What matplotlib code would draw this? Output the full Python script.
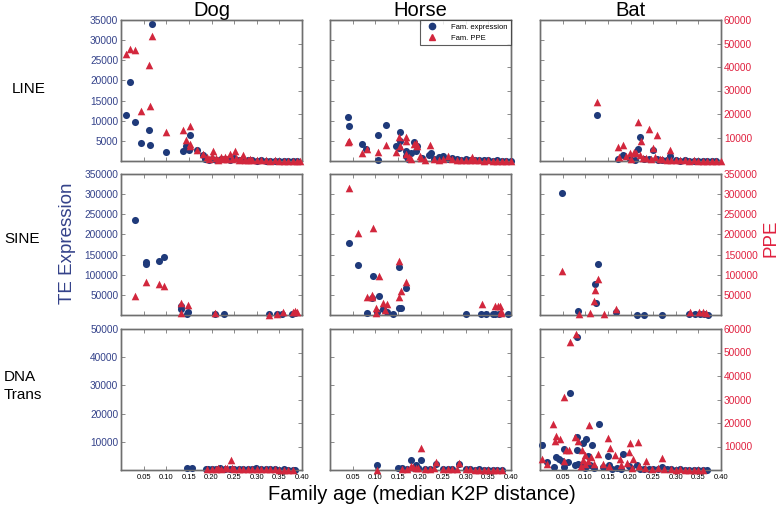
import matplotlib
matplotlib.use("Agg")
import matplotlib.pyplot as plt
from matplotlib.lines import Line2D

plt.rcParams["font.family"] = ["Liberation Sans", "DejaVu Sans"]

NAVY = "#1f3a7a"
RED = "#d2273d"
NAVY_TXT = "#34428a"
RED_TXT = "#e0213f"

SPECIES = ["Dog", "Horse", "Bat"]
FAMILIES = ["LINE", "SINE", "DNA\nTrans"]
XTICKS = [0.05, 0.10, 0.15, 0.20, 0.25, 0.30, 0.35, 0.40]
XTICKLABELS = ["0.05", "0.10", "0.15", "0.20", "0.25", "0.30", "0.35", "0.40"]
EXPR_MAX = [35000, 350000, 50000]
EXPR_STEP = [5000, 50000, 10000]
PPE_MAX = [60000, 350000, 60000]
PPE_STEP = [10000, 50000, 10000]

# ---- LINE ----
DOG_LINE_EXPR_X = [0.069, 0.019, 0.010, 0.032, 0.061, 0.044, 0.065, 0.100, 0.137, 0.143, 0.151, 0.152,
                   0.169, 0.182, 0.186, 0.195, 0.20, 0.21, 0.22, 0.23, 0.24, 0.25, 0.26, 0.27, 0.28,
                   0.29, 0.30, 0.31, 0.32, 0.33, 0.34, 0.35, 0.36, 0.37, 0.38, 0.39]
DOG_LINE_EXPR = [34000, 19600, 11400, 9600, 7800, 4400, 3900, 2250, 2400, 3600, 2700, 6400,
                 2750, 1400, 400, 300, 600, 200, 400, 500, 300, 800, 200, 300, 150,
                 200, 100, 150, 100, 80, 100, 60, 80, 50, 60, 40]
DOG_LINE_PPE_X = [0.069, 0.011, 0.020, 0.032, 0.061, 0.065, 0.044, 0.100, 0.137, 0.143, 0.152, 0.152,
                  0.153, 0.169, 0.182, 0.204, 0.251, 0.269, 0.241, 0.19, 0.195, 0.20, 0.21, 0.215,
                  0.22, 0.225, 0.23, 0.235, 0.245, 0.255, 0.26, 0.265, 0.275, 0.28, 0.285, 0.29,
                  0.30, 0.31, 0.32, 0.33, 0.34, 0.35, 0.36, 0.37, 0.38, 0.39, 0.395]
DOG_LINE_PPE = [53100, 45400, 47700, 47300, 40700, 23600, 21300, 12400, 13000, 9000, 15000, 7200,
                6200, 4700, 3100, 4300, 4300, 2400, 2900, 1500, 800, 2000, 1200, 600,
                1800, 900, 1500, 700, 1000, 1400, 500, 900, 600, 400, 700, 300,
                500, 300, 400, 200, 300, 200, 150, 200, 100, 100, 80]

HORSE_LINE_EXPR_X = [0.040, 0.043, 0.070, 0.080, 0.106, 0.106, 0.123, 0.145, 0.155, 0.155, 0.152, 0.167,
                     0.169, 0.173, 0.186, 0.189, 0.179, 0.192, 0.218, 0.224, 0.204, 0.250, 0.23, 0.24,
                     0.26, 0.27, 0.28, 0.29, 0.30, 0.31, 0.32, 0.33, 0.34, 0.35, 0.36, 0.37, 0.38,
                     0.39, 0.40]
HORSE_LINE_EXPR = [10900, 8800, 4100, 3100, 6400, 200, 9000, 3600, 7200, 5000, 3300, 2500,
                   1200, 600, 4800, 2600, 2100, 3750, 1500, 1900, 800, 1250, 600, 900,
                   500, 700, 400, 300, 500, 200, 300, 200, 150, 200, 100, 150, 80,
                   100, 60]
HORSE_LINE_PPE_X = [0.040, 0.043, 0.070, 0.081, 0.106, 0.123, 0.145, 0.153, 0.167, 0.167, 0.186, 0.190,
                    0.192, 0.155, 0.220, 0.169, 0.198, 0.260, 0.314, 0.175, 0.18, 0.20, 0.21, 0.23,
                    0.24, 0.25, 0.27, 0.28, 0.29, 0.30, 0.31, 0.32, 0.33, 0.34, 0.35, 0.36, 0.37,
                    0.38, 0.39, 0.40]
HORSE_LINE_PPE = [8000, 8400, 3600, 5300, 3900, 6600, 4000, 10300, 10100, 8300, 7100, 7600,
                  6300, 6400, 6700, 2900, 2100, 2100, 1900, 1500, 800, 1200, 600, 1000,
                  500, 900, 700, 400, 600, 300, 500, 300, 400, 200, 300, 200, 150,
                  100, 150, 80]

BAT_LINE_EXPR_X = [0.125, 0.222, 0.216, 0.249, 0.287, 0.183, 0.172, 0.198, 0.240, 0.259, 0.21, 0.23,
                   0.26, 0.27, 0.28, 0.30, 0.31, 0.32, 0.33, 0.34, 0.35, 0.36, 0.37, 0.38, 0.39]
BAT_LINE_EXPR = [11400, 6000, 2900, 2700, 1250, 1600, 400, 400, 600, 400, 300, 400,
                 200, 300, 150, 200, 100, 150, 80, 100, 60, 50, 80, 40, 50]
BAT_LINE_PPE_X = [0.125, 0.172, 0.183, 0.198, 0.207, 0.216, 0.223, 0.240, 0.259, 0.249, 0.288, 0.213,
                  0.228, 0.175, 0.19, 0.20, 0.22, 0.235, 0.245, 0.255, 0.265, 0.27, 0.28, 0.29,
                  0.30, 0.31, 0.32, 0.33, 0.34, 0.35, 0.36, 0.37, 0.38, 0.39, 0.40]
BAT_LINE_PPE = [25300, 6000, 6800, 3200, 3900, 16800, 8300, 13500, 11200, 5500, 4500, 3600,
                1400, 1500, 2000, 1000, 2500, 1200, 800, 1500, 700, 900, 500, 600,
                300, 400, 300, 200, 250, 150, 200, 100, 150, 80, 60]

# ---- SINE ----
DOG_SINE_EXPR_X = [0.030, 0.055, 0.055, 0.084, 0.094, 0.132, 0.132, 0.148, 0.145, 0.207, 0.227, 0.328,
                   0.345, 0.356, 0.378, 0.385]
DOG_SINE_EXPR = [236700, 131700, 126700, 135000, 145000, 23300, 15000, 8300, 2500, 1700, 1700, 1700,
                 1700, 2500, 2500, 4000]
DOG_SINE_PPE_X = [0.030, 0.056, 0.084, 0.094, 0.132, 0.132, 0.148, 0.207, 0.358, 0.380, 0.385, 0.389,
                  0.345, 0.328]
DOG_SINE_PPE = [46700, 82500, 76700, 72500, 30000, 4000, 24000, 4000, 6700, 8300, 10000, 6700,
                1500, 1000]

HORSE_SINE_EXPR_X = [0.0426, 0.0617, 0.094, 0.092, 0.109, 0.082, 0.117, 0.126, 0.139, 0.152, 0.152,
                     0.157, 0.168, 0.103, 0.300, 0.334, 0.345, 0.360, 0.365, 0.374, 0.394]
HORSE_SINE_EXPR = [178300, 125000, 97500, 41700, 46700, 5000, 15000, 6700, 1700, 120000, 18300,
                   18300, 65800, 6700, 1700, 3300, 1700, 2500, 3300, 2500, 1700]
HORSE_SINE_PPE_X = [0.0426, 0.0617, 0.094, 0.109, 0.082, 0.092, 0.092, 0.117, 0.127, 0.102, 0.122,
                    0.152, 0.156, 0.152, 0.168, 0.101, 0.335, 0.364, 0.371, 0.376, 0.377, 0.379]
HORSE_SINE_PPE = [315000, 204000, 215000, 97500, 45000, 50800, 45800, 30800, 27500, 17500, 12500,
                  133000, 60000, 45000, 80800, 5800, 27500, 23300, 21700, 22500, 10800, 4000]

BAT_SINE_EXPR_X = [0.048, 0.128, 0.121, 0.123, 0.084, 0.167, 0.214, 0.230, 0.269, 0.329, 0.342,
                   0.354, 0.363, 0.372]
BAT_SINE_EXPR = [302500, 125800, 75800, 29200, 10000, 7500, 1000, 1000, 1000, 1700, 1700,
                 1700, 1700, 1000]
BAT_SINE_PPE_X = [0.048, 0.128, 0.122, 0.120, 0.110, 0.141, 0.167, 0.331, 0.352, 0.360, 0.366, 0.086]
BAT_SINE_PPE = [109000, 88300, 61700, 34200, 5000, 2500, 15000, 8300, 6700, 6700, 5000, 2500]

# ---- DNA transposons ----
DOG_DNA_EXPR_X = [0.145, 0.157, 0.187, 0.192, 0.219, 0.241, 0.298, 0.20, 0.21, 0.23, 0.25, 0.26,
                  0.27, 0.28, 0.29, 0.31, 0.32, 0.33, 0.34, 0.35, 0.36, 0.37, 0.38, 0.385]
DOG_DNA_EXPR = [800, 800, 350, 350, 600, 400, 600, 300, 200, 400, 300, 250,
                300, 200, 350, 250, 200, 300, 200, 150, 200, 100, 150, 100]
DOG_DNA_PPE_X = [0.242, 0.19, 0.20, 0.21, 0.215, 0.22, 0.23, 0.235, 0.245, 0.25, 0.26, 0.27,
                 0.28, 0.29, 0.30, 0.31, 0.32, 0.33, 0.34, 0.35, 0.36, 0.37, 0.38]
DOG_DNA_PPE = [4100, 300, 500, 400, 800, 600, 1000, 700, 900, 600, 500, 400,
               600, 300, 500, 400, 300, 250, 300, 200, 150, 150, 100]

HORSE_DNA_EXPR_X = [0.103, 0.150, 0.160, 0.178, 0.189, 0.200, 0.235, 0.286, 0.17, 0.185, 0.195, 0.21,
                    0.22, 0.25, 0.26, 0.27, 0.30, 0.31, 0.32, 0.33, 0.34, 0.35, 0.36, 0.37, 0.38]
HORSE_DNA_EXPR = [1660, 600, 600, 3400, 1900, 3400, 2000, 2000, 400, 800, 600, 300,
                  400, 300, 200, 250, 300, 200, 150, 200, 100, 150, 100, 80, 100]
HORSE_DNA_PPE_X = [0.200, 0.235, 0.286, 0.178, 0.183, 0.103, 0.16, 0.17, 0.19, 0.195, 0.21, 0.22,
                   0.23, 0.25, 0.26, 0.27, 0.28, 0.30, 0.31, 0.32, 0.33, 0.34, 0.35, 0.36, 0.37, 0.38]
HORSE_DNA_PPE = [9200, 3300, 2800, 1850, 1400, 0, 300, 600, 1000, 800, 600, 500,
                 700, 400, 500, 300, 400, 300, 250, 200, 200, 150, 150, 100, 100, 80]

BAT_DNA_EXPR_X = [0.081, 0.067, 0.130, 0.081, 0.005, 0.101, 0.095, 0.115, 0.053, 0.184, 0.150, 0.081,
                  0.036, 0.042, 0.048, 0.016, 0.061, 0.030, 0.054, 0.078, 0.085, 0.093, 0.107, 0.111,
                  0.152, 0.196, 0.215, 0.270, 0.10, 0.12, 0.14, 0.16, 0.17, 0.18, 0.20, 0.22,
                  0.23, 0.24, 0.25, 0.26, 0.28, 0.29, 0.30, 0.31, 0.32, 0.33, 0.34, 0.35, 0.36, 0.37]
BAT_DNA_EXPR = [47000, 27400, 16200, 11800, 8900, 11000, 9600, 9000, 7600, 5700, 4800, 7100,
                4500, 4000, 3100, 3000, 2700, 1000, 1000, 1900, 2100, 1500, 5100, 1900,
                1900, 1400, 1900, 1000, 800, 600, 1000, 500, 700, 400, 600, 500,
                300, 400, 300, 200, 300, 200, 150, 200, 100, 150, 100, 80, 100, 60]
BAT_DNA_PPE_X = [0.080, 0.067, 0.053, 0.029, 0.035, 0.034, 0.044, 0.063, 0.078, 0.085, 0.108, 0.150,
                 0.154, 0.128, 0.165, 0.198, 0.216, 0.196, 0.205, 0.235, 0.270, 0.005, 0.016, 0.054,
                 0.057, 0.093, 0.100, 0.096, 0.105, 0.113, 0.119, 0.100, 0.091, 0.140, 0.152, 0.176,
                 0.180, 0.193, 0.204, 0.219, 0.233, 0.248, 0.26, 0.275, 0.29, 0.30, 0.31, 0.32,
                 0.33, 0.34, 0.35, 0.36]
BAT_DNA_PPE = [57700, 54600, 31100, 19400, 14300, 12300, 13300, 8600, 13900, 12300, 19100, 13700,
               9300, 6700, 6400, 11700, 12100, 7600, 4600, 3900, 5300, 4600, 2600, 3900,
               8300, 8300, 6300, 4400, 4000, 5400, 2600, 2600, 1900, 2500, 1800, 4500,
               2000, 3000, 800, 1500, 1000, 600, 800, 400, 300, 200, 300, 150,
               200, 100, 150, 100]

EXPR = [[(DOG_LINE_EXPR_X, DOG_LINE_EXPR), (HORSE_LINE_EXPR_X, HORSE_LINE_EXPR), (BAT_LINE_EXPR_X, BAT_LINE_EXPR)],
        [(DOG_SINE_EXPR_X, DOG_SINE_EXPR), (HORSE_SINE_EXPR_X, HORSE_SINE_EXPR), (BAT_SINE_EXPR_X, BAT_SINE_EXPR)],
        [(DOG_DNA_EXPR_X, DOG_DNA_EXPR), (HORSE_DNA_EXPR_X, HORSE_DNA_EXPR), (BAT_DNA_EXPR_X, BAT_DNA_EXPR)]]
PPE = [[(DOG_LINE_PPE_X, DOG_LINE_PPE), (HORSE_LINE_PPE_X, HORSE_LINE_PPE), (BAT_LINE_PPE_X, BAT_LINE_PPE)],
       [(DOG_SINE_PPE_X, DOG_SINE_PPE), (HORSE_SINE_PPE_X, HORSE_SINE_PPE), (BAT_SINE_PPE_X, BAT_SINE_PPE)],
       [(DOG_DNA_PPE_X, DOG_DNA_PPE), (HORSE_DNA_PPE_X, HORSE_DNA_PPE), (BAT_DNA_PPE_X, BAT_DNA_PPE)]]

W, H = 780, 507
fig = plt.figure(figsize=(W / 100, H / 100), dpi=100)
fig.patch.set_facecolor("white")

COL_LEFT = [121, 330, 540]
ROW_TOP = [20, 174, 329]
PW, PH = 181, 141

for r in range(3):
    for c in range(3):
        rect = [COL_LEFT[c] / W, 1 - (ROW_TOP[r] + PH) / H, PW / W, PH / H]
        ax = fig.add_axes(rect)
        ax2 = ax.twinx()
        ex, ey = EXPR[r][c]
        px, py = PPE[r][c]
        ax.scatter(ex, ey, s=26, marker="o", color=NAVY, linewidths=0, clip_on=False, zorder=3)
        ax2.scatter(px, py, s=30, marker="^", color=RED, linewidths=0, clip_on=False, zorder=3)

        ax.set_xlim(0, 0.40)
        ax.set_ylim(0, EXPR_MAX[r])
        ax2.set_ylim(0, PPE_MAX[r])
        ax.set_xticks(XTICKS)
        ax.set_yticks(range(EXPR_STEP[r], EXPR_MAX[r] + 1, EXPR_STEP[r]))
        ax2.set_yticks(range(PPE_STEP[r], PPE_MAX[r] + 1, PPE_STEP[r]))

        ax.tick_params(axis="x", direction="in", top=True, length=3, width=0.6,
                       color="#777777", labelsize=5.5, pad=3)
        ax.tick_params(axis="y", direction="in", length=3, width=0.6,
                       color="#777777", labelsize=7.3, labelcolor=NAVY_TXT, pad=2)
        ax2.tick_params(axis="y", direction="in", length=3, width=0.6,
                        color="#777777", labelsize=7.3, labelcolor=RED_TXT, pad=2)

        if r == 2:
            ax.set_xticklabels(XTICKLABELS)
        else:
            ax.set_xticklabels([])
        if c != 0:
            ax.set_yticklabels([])
        if c != 2:
            ax2.set_yticklabels([])

        for a in (ax, ax2):
            for sp in a.spines.values():
                sp.set_color("#6f6f6f")
                sp.set_linewidth(1.0)

        if r == 0:
            ax.set_title(SPECIES[c], fontsize=14.5, pad=2)
        if r == 0 and c == 1:
            handles = [Line2D([], [], ls="", marker="o", color=NAVY, markersize=4.5),
                       Line2D([], [], ls="", marker="^", color=RED, markersize=4.5)]
            leg = ax2.legend(handles, ["Fam. expression", "Fam. PPE"], loc="upper right",
                             fontsize=5.5, frameon=True, fancybox=False, borderpad=0.5,
                             handletextpad=1.5, borderaxespad=0, labelspacing=0.4)
            leg.get_frame().set_edgecolor("#333333")
            leg.get_frame().set_linewidth(0.8)

ROW_LABEL_X = [12, 4, 4]
ROW_LABEL_Y = [89, 239, 386]
for r, fam in enumerate(FAMILIES):
    fig.text(ROW_LABEL_X[r] / W, 1 - ROW_LABEL_Y[r] / H, fam, fontsize=11, ha="left",
             va="center", linespacing=1.4)

fig.text(67 / W, 1 - 243 / H, "TE Expression", rotation=90, fontsize=13.5,
         color=NAVY_TXT, ha="center", va="center")
fig.text(771 / W, 1 - 238 / H, "PPE", rotation=90, fontsize=13.5,
         color=RED_TXT, ha="center", va="center")
fig.text(422 / W, 1 - 494 / H, "Family age (median K2P distance)", fontsize=14.5,
         ha="center", va="center")

fig.savefig("out.png", dpi=100)
